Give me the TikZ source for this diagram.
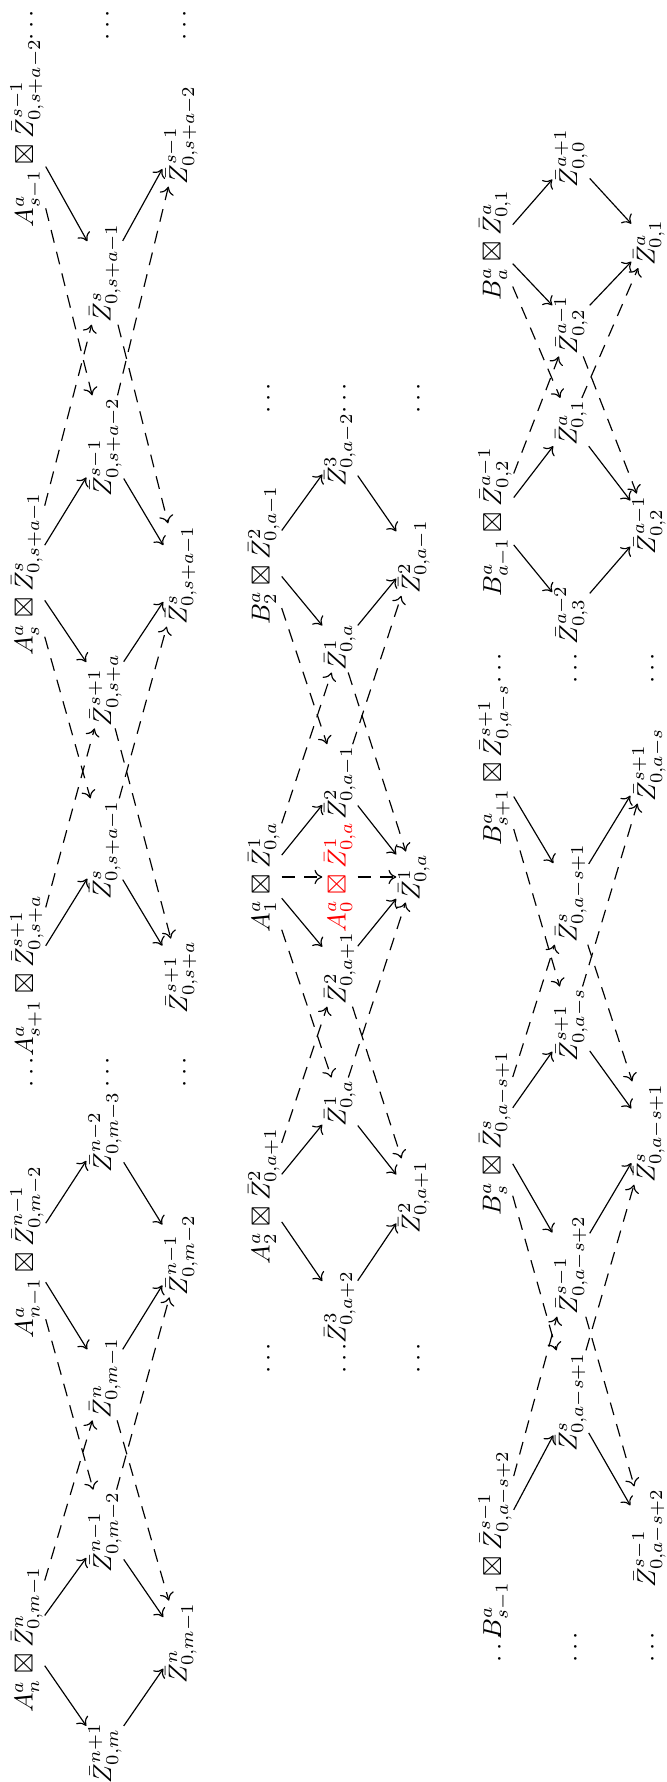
\documentclass[tikz,border=0pt]{standalone}
\usepackage{amssymb}
\usetikzlibrary{arrows.meta}
\newcommand{\Zb}{\bar{Z}}
\begin{document}
\begin{tikzpicture}[x=0.385pt,y=-0.385pt,
  lab/.style={rotate=90,inner sep=0.6pt},
  dt/.style={rotate=90,inner sep=1pt},
  sar/.style={-{Computer Modern Rightarrow[length=3pt,width=5.5pt]},line width=0.45pt},
  dar/.style={sar,dash pattern=on 5pt off 3.6pt},
  redlab/.style={lab,text=red}]
\useasboundingbox (0,0) rectangle (667,1782);
% ---------------- band 1 ----------------
\node[dt] (d1a) at (32,25) {$\cdots$};
\node[dt] (d1b) at (108,25) {$\cdots$};
\node[dt] (d1c) at (185,25) {$\cdots$};
\node[lab] (a5) at (27,133) {$A^a_{s-1}\boxtimes\Zb^{s-1}_{0,s+a-2}$};
\node[lab] (z5l) at (105,273) {$\Zb^{s}_{0,s+a-1}$};
\node[lab] (z5b) at (181,135) {$\Zb^{s-1}_{0,s+a-2}$};
\node[lab] (a4) at (27,574) {$A^a_{s}\boxtimes\Zb^{s}_{0,s+a-1}$};
\node[lab] (z4r) at (105,447) {$\Zb^{s-1}_{0,s+a-2}$};
\node[lab] (z4l) at (105,690) {$\Zb^{s+1}_{0,s+a}$};
\node[lab] (z4b) at (181,575) {$\Zb^{s}_{0,s+a-1}$};
\node[lab] (a3) at (27,976) {$A^a_{s+1}\boxtimes\Zb^{s+1}_{0,s+a}$};
\node[lab] (z3r) at (105,850) {$\Zb^{s}_{0,s+a-1}$};
\node[lab] (z3b) at (181,977) {$\Zb^{s+1}_{0,s+a}$};
\node[dt] (d2a) at (32,1072) {$\cdots$};
\node[dt] (d2b) at (108,1072) {$\cdots$};
\node[dt] (d2c) at (185,1072) {$\cdots$};
\node[lab] (a2) at (27,1252) {$A^a_{n-1}\boxtimes\Zb^{n-1}_{0,m-2}$};
\node[lab] (z2r) at (105,1132) {$\Zb^{n-2}_{0,m-3}$};
\node[lab] (z2l) at (105,1378) {$\Zb^{n}_{0,m-1}$};
\node[lab] (z2b) at (181,1255) {$\Zb^{n-1}_{0,m-2}$};
\node[lab] (a1) at (27,1640) {$A^a_{n}\boxtimes\Zb^{n}_{0,m-1}$};
\node[lab] (z1r) at (105,1532) {$\Zb^{n-1}_{0,m-2}$};
\node[lab] (z1l) at (105,1753) {$\Zb^{n+1}_{0,m}$};
\node[lab] (z1b) at (181,1643) {$\Zb^{n}_{0,m-1}$};
\draw[sar] (a5) -- (z5l); \draw[sar] (z5l) -- (z5b);
\draw[sar] (a4) -- (z4l); \draw[sar] (a4) -- (z4r);
\draw[sar] (z4l) -- (z4b); \draw[sar] (z4r) -- (z4b);
\draw[sar] (a3) -- (z3r); \draw[sar] (z3r) -- (z3b);
\draw[sar] (a2) -- (z2l); \draw[sar] (a2) -- (z2r);
\draw[sar] (z2l) -- (z2b); \draw[sar] (z2r) -- (z2b);
\draw[sar] (a1) -- (z1l); \draw[sar] (a1) -- (z1r);
\draw[sar] (z1l) -- (z1b); \draw[sar] (z1r) -- (z1b);
\draw[dar] (a5) -- (z4r); \draw[dar] (a4) -- (z5l);
\draw[dar] (z5l) -- (z4b); \draw[dar] (z4r) -- (z5b);
\draw[dar] (a4) -- (z3r); \draw[dar] (a3) -- (z4l);
\draw[dar] (z4l) -- (z3b); \draw[dar] (z3r) -- (z4b);
\draw[dar] (a2) -- (z1r); \draw[dar] (a1) -- (z2l);
\draw[dar] (z2l) -- (z1b); \draw[dar] (z1r) -- (z2b);
% ---------------- band 2 ----------------
\node[dt] (e1a) at (269,398) {$\cdots$};
\node[dt] (e1b) at (345,398) {$\cdots$};
\node[dt] (e1c) at (419,398) {$\cdots$};
\node[lab] (b2) at (264,555) {$B^a_{2}\boxtimes\Zb^{2}_{0,a-1}$};
\node[lab] (y2r) at (340,450) {$\Zb^{3}_{0,a-2}$};
\node[lab] (y2l) at (340,647) {$\Zb^{1}_{0,a}$};
\node[lab] (y2b) at (414,557) {$\Zb^{2}_{0,a-1}$};
\node[lab] (p1) at (264,877) {$A^a_{1}\boxtimes\Zb^{1}_{0,a}$};
\node[lab] (y1r) at (340,783) {$\Zb^{2}_{0,a-1}$};
\node[lab] (y1l) at (340,968) {$\Zb^{2}_{0,a+1}$};
\node[redlab] (rd) at (340,877) {$A^a_{0}\boxtimes\Zb^{1}_{0,a}$};
\node[lab] (y1b) at (414,877) {$\Zb^{1}_{0,a}$};
\node[lab] (p2) at (264,1196) {$A^a_{2}\boxtimes\Zb^{2}_{0,a+1}$};
\node[lab] (y3r) at (340,1103) {$\Zb^{1}_{0,a}$};
\node[lab] (y3l) at (340,1307) {$\Zb^{3}_{0,a+2}$};
\node[lab] (y3b) at (414,1197) {$\Zb^{2}_{0,a+1}$};
\node[dt] (e2a) at (269,1358) {$\cdots$};
\node[dt] (e2b) at (345,1358) {$\cdots$};
\node[dt] (e2c) at (419,1358) {$\cdots$};
\draw[sar] (b2) -- (y2l); \draw[sar] (b2) -- (y2r);
\draw[sar] (y2l) -- (y2b); \draw[sar] (y2r) -- (y2b);
\draw[sar] (p1) -- (y1l); \draw[sar] (p1) -- (y1r);
\draw[sar] (y1l) -- (y1b); \draw[sar] (y1r) -- (y1b);
\draw[sar] (p2) -- (y3l); \draw[sar] (p2) -- (y3r);
\draw[sar] (y3l) -- (y3b); \draw[sar] (y3r) -- (y3b);
\draw[dar] (p1) -- (y2l); \draw[dar] (b2) -- (y1r);
\draw[dar] (y1r) -- (y2b); \draw[dar] (y2l) -- (y1b);
\draw[dar] (p2) -- (y1l); \draw[dar] (p1) -- (y3r);
\draw[dar] (y3r) -- (y1b); \draw[dar] (y1l) -- (y3b);
\draw[dar] (p1) -- (rd); \draw[dar] (rd) -- (y1b);
% ---------------- band 3 ----------------
\node[lab] (ba) at (495,245) {$B^a_{a}\boxtimes\Zb^{a}_{0,1}$};
\node[lab] (w1r) at (571,158) {$\Zb^{a+1}_{0,0}$};
\node[lab] (w1l) at (571,325) {$\Zb^{a-1}_{0,2}$};
\node[lab] (w1b) at (649,243) {$\Zb^{a}_{0,1}$};
\node[lab] (bam) at (495,522) {$B^a_{a-1}\boxtimes\Zb^{a-1}_{0,2}$};
\node[lab] (w2r) at (571,423) {$\Zb^{a}_{0,1}$};
\node[lab] (w2l) at (571,615) {$\Zb^{a-2}_{0,3}$};
\node[lab] (w2b) at (649,525) {$\Zb^{a-1}_{0,2}$};
\node[dt] (f1a) at (500,668) {$\cdots$};
\node[dt] (f1b) at (576,668) {$\cdots$};
\node[dt] (f1c) at (653,668) {$\cdots$};
\node[lab] (bsp) at (495,765) {$B^a_{s+1}\boxtimes\Zb^{s+1}_{0,a-s}$};
\node[lab] (w3l) at (571,893) {$\Zb^{s}_{0,a-s+1}$};
\node[lab] (w3b) at (649,765) {$\Zb^{s+1}_{0,a-s}$};
\node[lab] (bs) at (495,1133) {$B^a_{s}\boxtimes\Zb^{s}_{0,a-s+1}$};
\node[lab] (w4r) at (571,1025) {$\Zb^{s+1}_{0,a-s}$};
\node[lab] (w4l) at (571,1265) {$\Zb^{s-1}_{0,a-s+2}$};
\node[lab] (w4b) at (649,1133) {$\Zb^{s}_{0,a-s+1}$};
\node[lab] (bsm) at (495,1545) {$B^a_{s-1}\boxtimes\Zb^{s-1}_{0,a-s+2}$};
\node[lab] (w5r) at (571,1402) {$\Zb^{s}_{0,a-s+1}$};
\node[lab] (w5b) at (649,1538) {$\Zb^{s-1}_{0,a-s+2}$};
\node[dt] (f2a) at (500,1647) {$\cdots$};
\node[dt] (f2b) at (576,1647) {$\cdots$};
\node[dt] (f2c) at (653,1647) {$\cdots$};
\draw[sar] (ba) -- (w1l); \draw[sar] (ba) -- (w1r);
\draw[sar] (w1l) -- (w1b); \draw[sar] (w1r) -- (w1b);
\draw[sar] (bam) -- (w2l); \draw[sar] (bam) -- (w2r);
\draw[sar] (w2l) -- (w2b); \draw[sar] (w2r) -- (w2b);
\draw[sar] (bsp) -- (w3l); \draw[sar] (w3l) -- (w3b);
\draw[sar] (bs) -- (w4l); \draw[sar] (bs) -- (w4r);
\draw[sar] (w4l) -- (w4b); \draw[sar] (w4r) -- (w4b);
\draw[sar] (bsm) -- (w5r); \draw[sar] (w5r) -- (w5b);
\draw[dar] (ba) -- (w2r); \draw[dar] (bam) -- (w1l);
\draw[dar] (w1l) -- (w2b); \draw[dar] (w2r) -- (w1b);
\draw[dar] (bsp) -- (w4r); \draw[dar] (bs) -- (w3l);
\draw[dar] (w3l) -- (w4b); \draw[dar] (w4r) -- (w3b);
\draw[dar] (bs) -- (w5r); \draw[dar] (bsm) -- (w4l);
\draw[dar] (w4l) -- (w5b); \draw[dar] (w5r) -- (w4b);
\end{tikzpicture}
\end{document}
